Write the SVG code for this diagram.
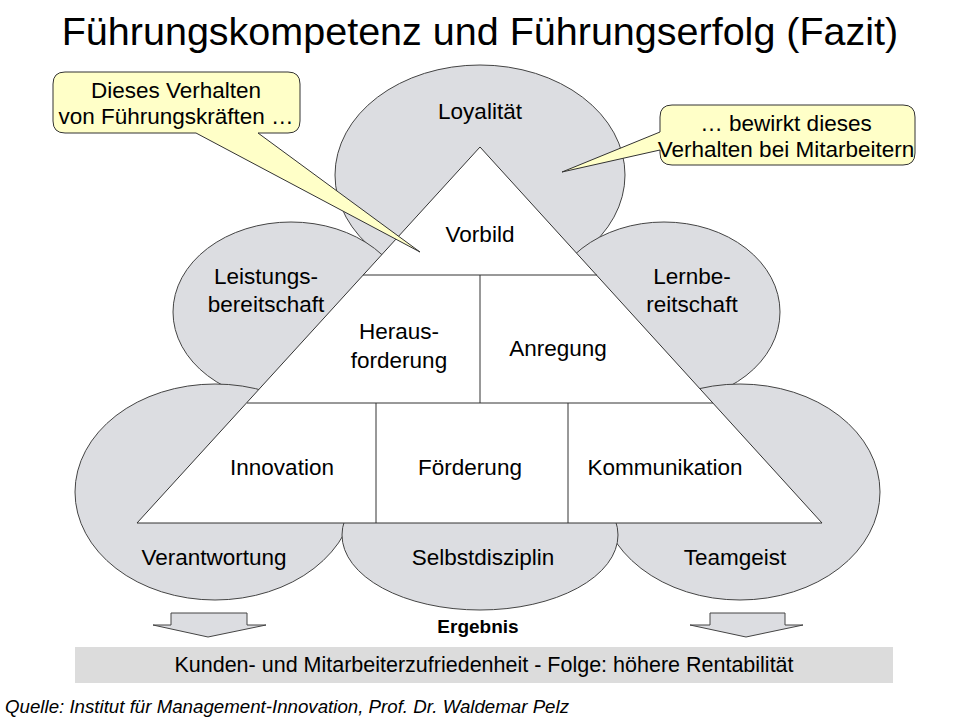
<svg xmlns="http://www.w3.org/2000/svg" width="960" height="720" viewBox="0 0 960 720">
<style>
text{font-family:"Liberation Sans",Arial,sans-serif;fill:#000}
.e{fill:#dcdde1;stroke:#444;stroke-width:1}
.l{font-size:22.5px;text-anchor:middle}
.c{fill:#ffffc8;stroke:#333;stroke-width:1}
.w{fill:#fff;stroke:#333;stroke-width:1}
</style>
<rect width="960" height="720" fill="#fff"/>
<text x="480" y="45" font-size="39.5" text-anchor="middle">Führungskompetenz und Führungserfolg (Fazit)</text>
<g id="ellipses">
<g id="n-loyalitaet"><ellipse class="e" cx="480" cy="175" rx="145" ry="110"/><text class="l" x="480" y="119">Loyalität</text></g>
<g id="n-leistung"><ellipse class="e" cx="291" cy="312" rx="118" ry="90"/><text class="l" x="266" y="284">Leistungs-</text><text class="l" x="266" y="312">bereitschaft</text></g>
<g id="n-lern"><ellipse class="e" cx="664" cy="312" rx="116" ry="90"/><text class="l" x="692" y="284">Lernbe-</text><text class="l" x="692" y="312">reitschaft</text></g>
<g id="n-verantwortung"><ellipse class="e" cx="215" cy="492" rx="140" ry="108"/><text class="l" x="214" y="565">Verantwortung</text></g>
<g id="n-teamgeist"><ellipse class="e" cx="740" cy="492" rx="140" ry="108"/><text class="l" x="735" y="565">Teamgeist</text></g>
<g id="n-selbst"><ellipse class="e" cx="480" cy="535" rx="138" ry="75"/><text class="l" x="483" y="565">Selbstdisziplin</text></g>
</g>
<g id="pyramid">
<polygon class="w" points="480,147 822,523 137,523"/>
<g fill="none" stroke="#333">
<line x1="363" y1="275" x2="597" y2="275"/><line x1="247" y1="403" x2="713" y2="403"/>
<line x1="480" y1="275" x2="480" y2="403"/><line x1="376" y1="403" x2="376" y2="523"/><line x1="568" y1="403" x2="568" y2="523"/>
</g>
<g id="n-vorbild"><text class="l" x="480" y="242">Vorbild</text></g>
<g id="n-heraus"><text class="l" x="399" y="339">Heraus-</text><text class="l" x="399" y="368">forderung</text></g>
<g id="n-anregung"><text class="l" x="558" y="356">Anregung</text></g>
<g id="n-innovation"><text class="l" x="282" y="475">Innovation</text></g>
<g id="n-foerderung"><text class="l" x="470" y="475">Förderung</text></g>
<g id="n-kommunikation"><text class="l" x="665" y="475">Kommunikation</text></g>
</g>
<g id="callout-left">
<path class="c" d="M65,72 H288 Q300,72 300,84 V121 Q300,133 288,133 H258 L420,252 L196,133 H65 Q53,133 53,121 V84 Q53,72 65,72 Z"/>
<text class="l" x="176" y="98" font-size="19.5">Dieses Verhalten</text><text class="l" x="176" y="124" font-size="19.5">von Führungskräften …</text>
</g>
<g id="callout-right">
<path class="c" d="M672,105 H903 Q915,105 915,117 V153 Q915,165 903,165 H672 Q660,165 660,153 V150 L562,172 L660,132 V117 Q660,105 672,105 Z"/>
<text class="l" x="786" y="131" font-size="19.5">… bewirkt dieses</text><text class="l" x="786" y="157" font-size="19.5">Verhalten bei Mitarbeitern</text>
</g>
<g id="connectors">
<polygon fill="#dcdde1" stroke="#444" points="183,613 259,613 259,625 278,625 220,637 165,625 183,625" transform="translate(-12,0)"/>
<polygon fill="#dcdde1" stroke="#444" points="710,613 785,613 785,625 803,625 746,637 690,625 710,625"/>
</g>
<text x="478" y="633" font-size="19" font-weight="bold" text-anchor="middle">Ergebnis</text>
<g id="result"><rect x="75" y="647" width="818" height="36" fill="#dcdcdc"/>
<text x="484" y="672" font-size="21.5" text-anchor="middle">Kunden- und Mitarbeiterzufriedenheit - Folge: höhere Rentabilität</text></g>
<text x="5" y="713" font-size="18.7" font-style="italic">Quelle: Institut für Management-Innovation, Prof. Dr. Waldemar Pelz</text>
</svg>
